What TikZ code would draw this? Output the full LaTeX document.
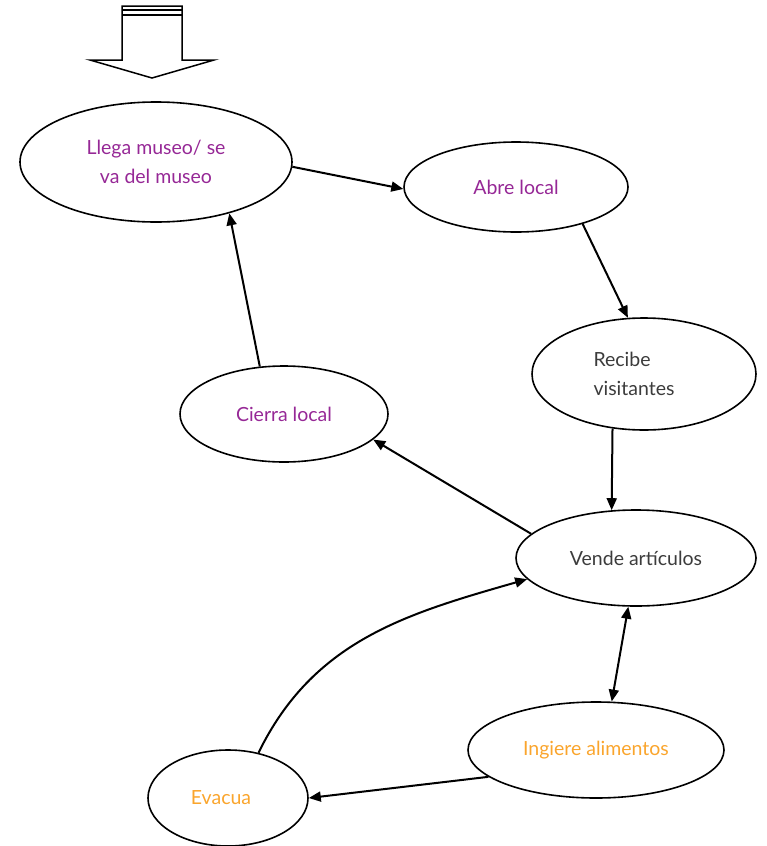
\documentclass[tikz,border=0pt]{standalone}
\usepackage{fontspec}
\setmainfont{Lato}
\usepackage{xcolor}
\usepackage{tikz}
\usetikzlibrary{
	arrows.meta,
	shapes.geometric
}
\definecolor{Morado}{RGB}{150,40,150}
\definecolor{Naranja}{RGB}{250,165,45}
\definecolor{Gris}{RGB}{60,60,60}

\tikzset{
	estado/.style={draw, ellipse, line width=1.6pt, inner sep=0pt, align=center,
		font=\fontsize{19.5}{29}\selectfont},
	flecha/.style={line width=2pt, -{Triangle[length=12pt,width=10pt]}},
}

\begin{document}
\begin{tikzpicture}[x=1pt, y=-1pt]
		\useasboundingbox (0,0) rectangle (766,846);
		
		% flecha de entrada
		\draw[line width=1.5pt, fill=white] (122,6) -- (122,60) -- (90,60) -- (152,78)
			-- (214,60) -- (182,60) -- (182,6) -- cycle;
		\draw[line width=1.5pt] (122,10) -- (182,10);
		\draw[line width=1.5pt] (122,15) -- (182,15);
		
		% estados
		\node[estado, minimum width=272pt, minimum height=120pt, text=Morado] (llega) at (156,162) {Llega museo/ se\\va del museo};
		\node[estado, minimum width=224pt, minimum height=90pt, text=Morado] (abre) at (516,187) {Abre local};
		\node[estado, minimum width=224pt, minimum height=112pt, text=Gris, align=left] (recibe) at (644,374) {Recibe\\visitantes\hspace*{20pt}};
		\node[estado, minimum width=208pt, minimum height=96pt, text=Morado] (cierra) at (284,414) {Cierra local};
		\node[estado, minimum width=240pt, minimum height=96pt, text=Gris] (vende) at (636,558) {Vende artículos};
		\node[estado, minimum width=256pt, minimum height=96pt, text=Naranja] (ingiere) at (596,750) {Ingiere alimentos};
		\node[estado, minimum width=160pt, minimum height=96pt, text=Naranja] (evacua) at (228,798) {Evacua\hspace*{14pt}};
		
		% transiciones
		\draw[flecha] (llega.-2) -- (abre.181);
		\draw[flecha] (abre.-29) -- (recibe.106);
		\draw[flecha] (recibe.-120) -- (vende.117);
		\draw[flecha] (vende.167) -- (cierra.-16);
		\draw[flecha] (cierra.117) -- (llega.-35);
		\draw[flecha, {Triangle[length=12pt,width=10pt]}-{Triangle[length=12pt,width=10pt]}] (vende.-99) -- (ingiere.72);
		\draw[flecha] (ingiere.-166) -- (evacua.0);
		\draw[flecha] (evacua.56) to[out=64, in=196] (vende.-169);
	\end{tikzpicture}
\end{document}
